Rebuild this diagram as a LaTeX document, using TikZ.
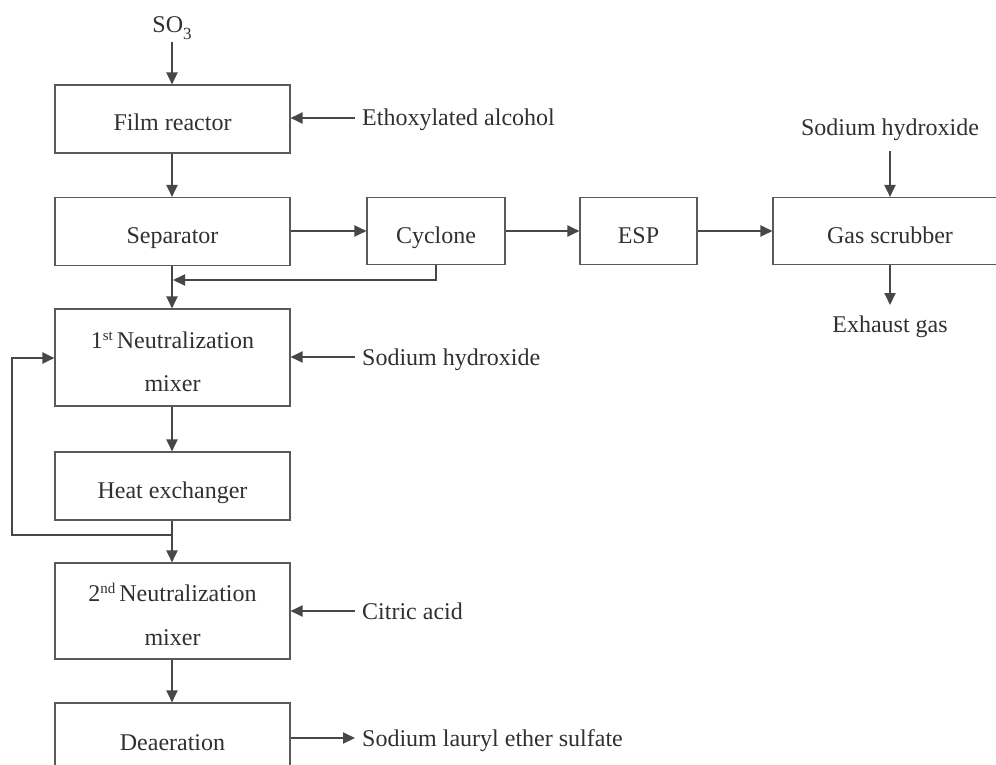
\documentclass[tikz,border=0pt]{standalone}
\usepackage{fontspec}
\setmainfont{Liberation Serif}
\usetikzlibrary{arrows.meta}
\definecolor{linec}{HTML}{474747}
\definecolor{boxc}{HTML}{5A5A5A}
\definecolor{txt}{HTML}{303030}
\newcommand{\supx}[1]{\raisebox{8pt}{\fontsize{15}{15}\selectfont #1}}
\begin{document}
\begin{tikzpicture}[x=1pt,y=-1pt,
  font=\fontsize{24}{28}\selectfont,
  every node/.style={text=txt},
  box/.style={draw=boxc, line width=1.1pt, minimum height=68pt, inner sep=0pt,
    anchor=center, text height=24pt, text depth=0pt},
  twobox/.style={box, minimum height=97pt, text width=235pt, align=center,
    text height=16pt, text depth=34.4pt},
  lbl/.style={inner sep=0pt, anchor=base west},
  flow/.style={draw=linec, line width=2pt, -{Triangle[length=12pt,width=11pt]}}]
\clip (0,0) rectangle (996,765);
% main column
\node[box, minimum width=235pt] (film) at (172.5,119) {Film reactor};
\node[box, minimum width=235pt] (sep) at (172.5,231.5) {Separator};
\node[twobox, minimum width=235pt] (n1) at (172.5,357.5) {1\supx{st}\hspace{4pt}Neutralization\\[15.4pt]mixer};
\node[box, minimum width=235pt] (hx) at (172.5,486) {Heat exchanger};
\node[twobox, minimum width=235pt, minimum height=96pt] (n2) at (172.5,611) {2\supx{nd}\hspace{4pt}Neutralization\\[15.4pt]mixer};
\node[box, minimum width=235pt, minimum height=70pt] (dea) at (172.5,738) {Deaeration};
% gas line
\node[box, minimum width=138pt, minimum height=67pt] (cyc) at (436,231) {Cyclone};
\node[box, minimum width=117pt, minimum height=67pt] (esp) at (638.5,231) {ESP};
\node[box, minimum width=234pt, minimum height=67pt] (gas) at (890,231) {Gas scrubber};
% labels
\node[inner sep=0pt, anchor=base] (so3) at (172,33) {SO\raisebox{-7pt}{\fontsize{17}{17}\selectfont 3}};
\node[lbl] (eth) at (362,126) {Ethoxylated alcohol};
\node[lbl] (naoh1) at (362,365) {Sodium hydroxide};
\node[lbl] (cit) at (362,619) {Citric acid};
\node[lbl] (sles) at (362,746) {Sodium lauryl ether sulfate};
\node[inner sep=0pt, anchor=base] (naoh2) at (890,136) {Sodium hydroxide};
\node[inner sep=0pt, anchor=base] (exh) at (890,332) {Exhaust gas};
% coordinates
\coordinate (so3a) at (172,42);
\coordinate (etha) at (355,118);
\coordinate (naoh1a) at (355,357);
\coordinate (cita) at (355,611);
\coordinate (slesa) at (355,738);
\coordinate (naoh2a) at (890,151);
\coordinate (exha) at (890,305);
\coordinate (ret) at (436,280);
\coordinate (retend) at (173,280);
\coordinate (rec) at (172,535);
\coordinate (recl) at (12,535);
\coordinate (recu) at (12,358);
% connectors
\draw[flow] (so3a) -- (film.north -| so3a);
\draw[flow] (etha) -- (film.east |- etha);
\draw[flow] (film.south -| so3a) -- (sep.north -| so3a);
\draw[flow] (sep.south -| so3a) -- (n1.north -| so3a);
\draw[flow] (sep.east |- cyc.west) -- (cyc.west);
\draw[flow] (cyc.east) -- (esp.west);
\draw[flow] (esp.east) -- (gas.west);
\draw[flow] (naoh2a) -- (gas.north);
\draw[flow] (gas.south) -- (exha);
\draw[flow] (cyc.south) -- (ret) -- (retend);
\draw[flow] (naoh1a) -- (n1.east |- naoh1a);
\draw[flow] (n1.south -| so3a) -- (hx.north -| so3a);
\draw[flow] (hx.south -| so3a) -- (n2.north -| so3a);
\draw[flow] (rec) -- (recl) -- (recu) -- (n1.west |- recu);
\draw[flow] (cita) -- (n2.east |- cita);
\draw[flow] (n2.south -| so3a) -- (dea.north -| so3a);
\draw[flow] (dea.east |- slesa) -- (slesa);
\end{tikzpicture}
\end{document}
